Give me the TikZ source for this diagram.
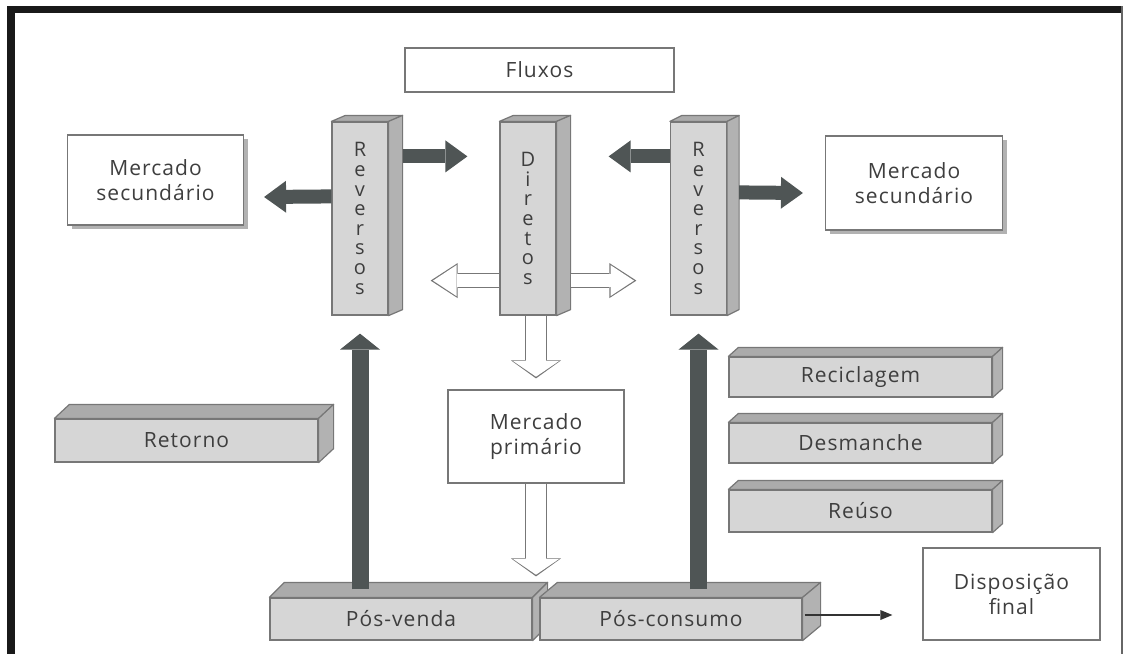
\documentclass[tikz,border=0pt]{standalone}
\usepackage{fontspec}
\setmainfont{Open Sans}
\newfontfamily\rotulofont[LetterSpace=5]{Open Sans}
\usepackage{tikz}
\usetikzlibrary{positioning, calc, arrows.meta, shadows}
\definecolor{borda}{HTML}{777777}
\definecolor{frente}{HTML}{D6D6D6}
\definecolor{topo}{HTML}{ABABAB}
\definecolor{lado}{HTML}{B2B2B2}
\definecolor{escuro}{HTML}{4F5555}
\definecolor{texto}{HTML}{3E3E3E}
\tikzset{
	caixa/.style={
			shape=rectangle,
			draw=borda,
			fill=white,
			line width=1.2pt,
			text=texto,
			align=center,
			font=\rotulofont\fontsize{21}{25}\selectfont,
			inner sep=0pt
		},
	caixasombra/.style={
			caixa,
			drop shadow={shadow xshift=4pt, shadow yshift=-4pt, fill=black!30, opacity=1}
		},
	bloco/.style={
			caixa,
			fill=frente,
			minimum width=263pt
		},
	coluna/.style={
			caixa,
			fill=frente,
			minimum width=56pt,
			minimum height=193pt,
			font=\fontsize{20}{19.6}\selectfont
		},
	facetopo/.style={draw=borda, line width=1.2pt, fill=topo, line join=round},
	facelado/.style={draw=borda, line width=1.2pt, fill=lado, line join=round}
}
\tikzset{
	setaescura/.style={draw=escuro, line width=14pt, -{Triangle[width=32pt,length=22pt,line width=0pt]}},
	setasobe/.style={draw=escuro, line width=17pt, -{Triangle[width=40pt,length=16pt,line width=0pt]}},
	ocah/.style={draw=borda, line width=15pt, -{Triangle[width=35pt,length=27pt,line width=0pt]}},
	ocahmiolo/.style={draw=white, line width=12.6pt, shorten >=2.4pt, -{Triangle[width=31pt,length=23.5pt,line width=0pt]}},
	ocav/.style={draw=borda, line width=22pt, -{Triangle[width=50pt,length=18pt,line width=0pt]}},
	ocavmiolo/.style={draw=white, line width=19.6pt, shorten >=1.7pt, -{Triangle[width=45.5pt,length=15.5pt,line width=0pt]}},
	setafina/.style={draw=black!80, line width=1.2pt, -{Triangle[width=10pt,length=12pt,line width=0pt]}}
}
% top and side faces of a 3d block
\newcommand{\faces}[3]{%
	\filldraw[facetopo] (#1.north west) -- ++(#2,#3) -- ($(#1.north east)+(#2,#3)$) -- (#1.north east) -- cycle;
	\filldraw[facelado] (#1.north east) -- ($(#1.north east)+(#2,#3)$) -- ($(#1.south east)+(#2,#3)$) -- (#1.south east) -- cycle;
}
\begin{document}
\begin{tikzpicture}[x=1pt, y=-1pt]

				\useasboundingbox (0,0) rectangle (1124,654);
				\fill[black!90] (7,6) rectangle (1122,13);
				\fill[black!90] (7,6) rectangle (15,654);
				\draw[black!60, line width=1.5pt] (1122,6) -- (1122,654);

				\node[caixa, minimum width=269pt, minimum height=44pt] (fluxos) at (539.5,70) {Fluxos};
				\node[caixasombra, minimum width=176pt, minimum height=90pt] (mercsecE) at (155.5,180) {Mercado\\secundário};
				\node[caixasombra, minimum width=177pt, minimum height=94pt] (mercsecD) at (914,183) {Mercado\\secundário};

				\node[coluna] (reversosE) at (360,218.5) {R\\e\\v\\e\\r\\s\\o\\s};
				\faces{reversosE}{14}{-6}
				\node[coluna] (diretos) at (528,218.5) {D\\i\\r\\e\\t\\o\\s};
				\faces{diretos}{14}{-6}
				\node[coluna] (reversosD) at (698.5,218.5) {R\\e\\v\\e\\r\\s\\o\\s};
				\faces{reversosD}{12}{-6}

				\node[caixa, minimum width=176pt, minimum height=93pt] (mercprim) at (536,436.5) {Mercado\\primário};
				\node[caixa, minimum width=177pt, minimum height=92pt] (disposicao) at (1011.5,594) {Disposição\\final};

				\node[bloco, minimum height=43pt] (retorno) at (186.5,440.5) {Retorno};
				\faces{retorno}{15}{-14}
				\node[bloco, minimum height=40pt] (reciclagem) at (860.5,377) {Reciclagem};
				\faces{reciclagem}{10}{-9}
				\node[bloco, minimum height=40pt] (desmanche) at (860.5,443) {Desmanche};
				\faces{desmanche}{10}{-9}
				\node[bloco, minimum height=42pt] (reuso) at (860.5,511) {Reúso};
				\faces{reuso}{10}{-9}
				\node[bloco, minimum width=262pt, minimum height=42pt] (posvenda) at (401,619) {Pós-venda};
				\faces{posvenda}{15}{-15}
				\node[bloco, minimum width=262pt, minimum height=42pt] (posconsumo) at (671,619) {Pós-consumo};
				\faces{posconsumo}{18}{-15}

				% fluxos reversos
				\draw[setaescura] ($(reversosE.north east)+(14,35)$) -- ($(diretos.north west)+(-32,35)$);
				\draw[setaescura] ($(reversosD.north west)+(0,35)$) -- ($(diretos.north east)+(52,35)$);
				\draw[setaescura] ($(reversosE.north west)+(0,75)$) -- ($(mercsecE.east)+(20,17)$);
				\draw[setaescura] ($(reversosD.north east)+(12,71)$) -- ($(mercsecD.west)+(-22,10)$);
				\draw[setasobe] ($(reversosE.south |- posvenda.north)+(0,-8)$) -- ($(reversosE.south)+(0,18)$);
				\draw[setasobe] ($(reversosD.south |- posconsumo.north)+(0,-8)$) -- ($(reversosD.south)+(0,18)$);

				% fluxos diretos
				\draw[ocah] ($(diretos.south west)+(0,-35)$) -- ($(reversosE.south east)+(42,-35)$);
				\draw[ocahmiolo] ($(diretos.south west)+(0,-35)$) -- ($(reversosE.south east)+(42,-35)$);
				\draw[ocah] ($(diretos.south east)+(14,-35)$) -- ($(reversosD.south west)+(-33.5,-35)$);
				\draw[ocahmiolo] ($(diretos.south east)+(14,-35)$) -- ($(reversosD.south west)+(-33.5,-35)$);
				\draw[ocav] (mercprim.north |- diretos.south) -- ($(mercprim.north)+(0,-11)$);
				\draw[ocavmiolo] (mercprim.north |- diretos.south) -- ($(mercprim.north)+(0,-11)$);
				\draw[ocav] (mercprim.south) -- ($(mercprim.south |- posvenda.north)+(0,-21)$);
				\draw[ocavmiolo] (mercprim.south) -- ($(mercprim.south |- posvenda.north)+(0,-21)$);

				\draw[setafina] ($(posconsumo.east)+(2,-4)$) -- ($(disposicao.west)+(-30,21)$);

			\end{tikzpicture}
\end{document}
